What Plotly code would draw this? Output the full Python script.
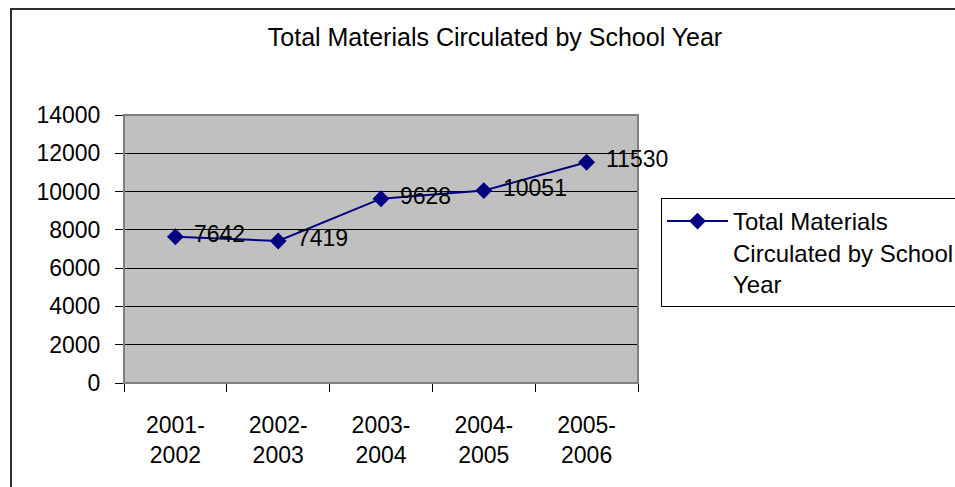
import plotly.graph_objects as go

categories = ["2001-2002", "2002-2003", "2003-2004", "2004-2005", "2005-2006"]
tick_labels = ["2001-<br>2002", "2002-<br>2003", "2003-<br>2004", "2004-<br>2005", "2005-<br>2006"]
values = [7642, 7419, 9628, 10051, 11530]
series_name = "Total Materials Circulated by School Year"
legend_label = "Total Materials<br>Circulated by School<br>Year"

W, H = 955, 487
L, R, T, B = 124, 955 - 638, 115, 487 - 383
pw, ph = W - L - R, H - T - B

def px(x):
    return (x - L) / pw

def py(y):
    return (H - B - y) / ph

FONT = "Liberation Sans, Arial, sans-serif"
NAVY = "#000080"

fig = go.Figure()
fig.add_trace(go.Scatter(
    x=categories, y=values, name=legend_label,
    mode="lines+markers",
    line=dict(color=NAVY, width=2),
    marker=dict(symbol="diamond", size=13, color=NAVY),
    showlegend=True,
))

annotations = []
for c, v in zip(categories, values):
    annotations.append(dict(
        x=c, y=v, xref="x", yref="y", text=str(v), showarrow=False,
        xanchor="left", yanchor="middle", xshift=17, yshift=3,
        font=dict(family=FONT, size=23, color="black"),
    ))

shapes = [
    # plot area border
    dict(type="rect", xref="paper", yref="paper", x0=0, y0=0, x1=1, y1=1,
         line=dict(color="#808080", width=2), layer="above"),
    # outer chart border
    dict(type="rect", xref="paper", yref="paper",
         x0=px(11), y0=py(495), x1=px(965), y1=py(9),
         line=dict(color="#303030", width=2)),
]

fig.update_layout(
    width=W, height=H,
    margin=dict(l=L, r=R, t=T, b=B, pad=0, autoexpand=False),
    paper_bgcolor="white",
    plot_bgcolor="#C0C0C0",
    font=dict(family=FONT, size=23, color="black"),
    title=dict(text="Total Materials Circulated by School Year",
               x=495 / W, xref="container", xanchor="center",
               y=1 - 37 / H, yref="container", yanchor="middle",
               font=dict(family=FONT, size=25, color="black")),
    xaxis=dict(
        type="category", categoryorder="array", categoryarray=categories,
        tickmode="array", tickvals=categories, ticktext=tick_labels,
        tickson="boundaries", ticks="outside", ticklen=8, tickcolor="black",
        showline=True, linecolor="black", linewidth=1,
        showgrid=False, zeroline=False,
        range=[-0.5, 4.5], ticklabelstandoff=21,
        tickfont=dict(family=FONT, size=23, color="black"),
    ),
    yaxis=dict(
        range=[0, 14000], dtick=2000, tick0=0, tickformat="d",
        ticks="outside", ticklen=8, tickcolor="black",
        showline=False, showgrid=True, gridcolor="black", gridwidth=1,
        zeroline=False, ticklabelstandoff=10,
        tickfont=dict(family=FONT, size=23, color="black"),
    ),
    legend=dict(
        x=px(661), y=py(198), xanchor="left", yanchor="top",
        xref="paper", yref="paper",
        bgcolor="white", bordercolor="black", borderwidth=1,
        valign="top", itemwidth=61,
        font=dict(family=FONT, size=24, color="black"),
    ),
    annotations=annotations,
    shapes=shapes,
)

fig.write_html("out.html", config={"displayModeBar": False},
               post_script="document.body.style.margin='0';")
